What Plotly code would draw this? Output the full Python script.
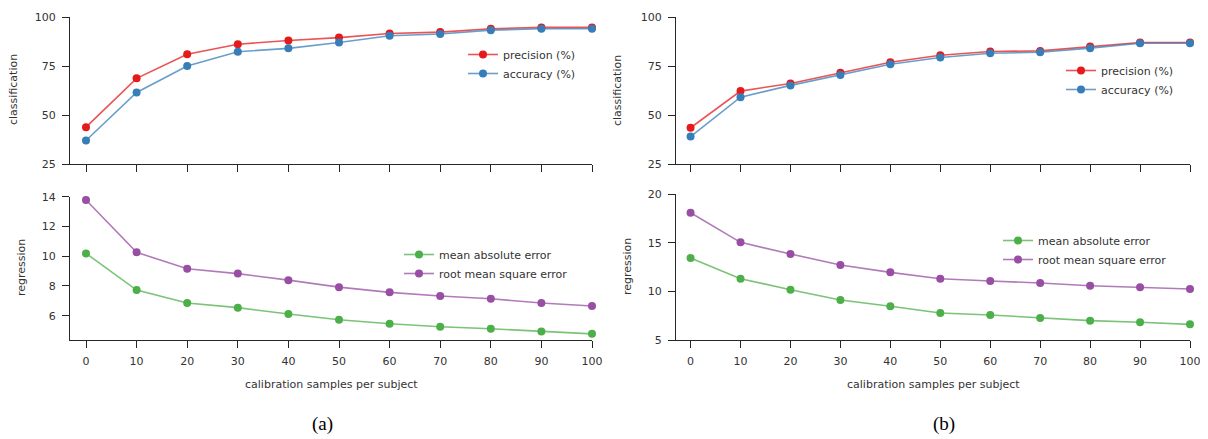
import plotly.graph_objects as go

# the page body has an 8px margin, so the figure is drawn 8px smaller and offset
OFF = 8
W, H = 1208 - OFF, 439 - OFF

samples = [0, 10, 20, 30, 40, 50, 60, 70, 80, 90, 100]

# panel (a)
a_precision = [43.8, 68.7, 81.0, 86.1, 88.0, 89.5, 91.6, 92.3, 94.0, 94.7, 94.7]
a_accuracy = [37.0, 61.5, 75.0, 82.3, 84.0, 87.0, 90.4, 91.3, 93.3, 94.0, 94.0]
a_mae = [10.19, 7.72, 6.85, 6.54, 6.11, 5.73, 5.46, 5.26, 5.12, 4.94, 4.78]
a_rmse = [13.78, 10.26, 9.16, 8.83, 8.39, 7.92, 7.57, 7.32, 7.14, 6.85, 6.65]

# panel (b)
b_precision = [43.5, 62.2, 66.1, 71.6, 76.9, 80.5, 82.4, 82.7, 84.9, 87.0, 87.0]
b_accuracy = [39.0, 59.1, 65.1, 70.4, 75.9, 79.3, 81.5, 82.0, 84.1, 86.6, 86.6]
b_mae = [13.42, 11.30, 10.17, 9.11, 8.46, 7.77, 7.57, 7.26, 6.99, 6.82, 6.61]
b_rmse = [18.08, 15.03, 13.84, 12.71, 11.95, 11.30, 11.06, 10.86, 10.58, 10.41, 10.24]

cls_ticks = [25, 50, 75, 100]
reg_ticks_a = [6, 8, 10, 12, 14]
reg_ticks_b = [5, 10, 15, 20]

RED = "#e41a1c"
BLUE = "#377eb8"
GREEN = "#4daf4a"
PURPLE = "#984ea3"

def rgba(hexc, a):
    h = hexc.lstrip("#")
    return "rgba(%d,%d,%d,%.2f)" % (int(h[0:2], 16), int(h[2:4], 16), int(h[4:6], 16), a)

def px_x(p):
    return (p - OFF) / W

def px_y(p):
    return 1 - (p - OFF) / H

fig = go.Figure()

def add(x, y, name, color, xa, ya, legend):
    fig.add_trace(go.Scatter(
        x=x, y=y, name=name, mode="lines+markers",
        line=dict(color=rgba(color, 0.75), width=1.6),
        marker=dict(color=color, size=8),
        xaxis=xa, yaxis=ya, legend=legend, cliponaxis=False,
    ))

add(samples, a_precision, "precision (%)", RED, "x", "y", "legend")
add(samples, a_accuracy, "accuracy (%)", BLUE, "x", "y", "legend")
add(samples, a_mae, "mean absolute error", GREEN, "x2", "y2", "legend2")
add(samples, a_rmse, "root mean square error", PURPLE, "x2", "y2", "legend2")
add(samples, b_precision, "precision (%)", RED, "x3", "y3", "legend3")
add(samples, b_accuracy, "accuracy (%)", BLUE, "x3", "y3", "legend3")
add(samples, b_mae, "mean absolute error", GREEN, "x4", "y4", "legend4")
add(samples, b_rmse, "root mean square error", PURPLE, "x4", "y4", "legend4")

AX = "#262626"
TF = dict(family="DejaVu Sans", size=11, color="#333333")

def xaxis(dom, anchor, rng, labels):
    return dict(domain=dom, anchor=anchor, range=rng, tickvals=samples,
                showticklabels=labels, ticks="outside", ticklen=7, tickwidth=1.2,
                tickcolor=AX, showline=True, linecolor=AX, linewidth=1.3,
                showgrid=False, zeroline=False, tickfont=TF, ticklabelstandoff=4,
                automargin=False)

def yaxis(dom, anchor, rng, tv):
    return dict(domain=dom, anchor=anchor, range=rng, tickvals=tv,
                ticks="outside", ticklen=7, tickwidth=1.2, tickcolor=AX,
                showline=True, linecolor=AX, linewidth=1.3, showgrid=False,
                zeroline=False, tickfont=TF, ticklabelstandoff=4, automargin=False)

xl = [px_x(70), px_x(592)]
xr = [px_x(676), px_x(1190)]
top_dom = [px_y(164), px_y(17)]
bl_dom = [px_y(340), px_y(196.7)]
br_dom = [px_y(340), px_y(194)]

rl = [-16 / 5.06, 100]
rr = [-15 / 5.14, 100]

fig.update_layout(
    width=W, height=H,
    margin=dict(l=0, r=0, t=0, b=0, autoexpand=False),
    paper_bgcolor="white", plot_bgcolor="white",
    font=dict(family="DejaVu Sans", size=11, color="#333333"),
    xaxis=xaxis(xl, "y", rl, False),
    yaxis=yaxis(top_dom, "x", [25, 100], cls_ticks),
    xaxis2=xaxis(xl, "y2", rl, True),
    yaxis2=yaxis(bl_dom, "x2", [4.367, 14], reg_ticks_a),
    xaxis3=xaxis(xr, "y3", rr, False),
    yaxis3=yaxis(top_dom, "x3", [25, 100], cls_ticks),
    xaxis4=xaxis(xr, "y4", rr, True),
    yaxis4=yaxis(br_dom, "x4", [5, 20], reg_ticks_b),
    showlegend=True,
)

def legend(x, y):
    return dict(x=px_x(x), y=px_y(y), xanchor="left", yanchor="top",
                bgcolor="rgba(0,0,0,0)", font=dict(family="DejaVu Sans", size=11, color="#333333"),
                tracegroupgap=0, itemwidth=30)

fig.update_layout(
    legend=legend(463, 40),
    legend2=legend(399, 240),
    legend3=legend(1061, 56),
    legend4=legend(998, 226),
)

ann = []
def at(text, x, y, angle=0, size=11, family="DejaVu Sans", color="#333333"):
    ann.append(dict(text=text, x=px_x(x), y=px_y(y), xref="paper", yref="paper",
                    showarrow=False, textangle=angle, xanchor="center", yanchor="middle",
                    font=dict(family=family, size=size, color=color)))

at("classification", 13, 90, -90)
at("regression", 21, 268, -90)
at("classification", 617, 90, -90)
at("regression", 627, 267, -90)
at("calibration samples per subject", 331, 384)
at("calibration samples per subject", 933, 384)
at("(a)", 322, 424, size=19, family="Liberation Serif", color="#000000")
at("(b)", 944, 424, size=19, family="Liberation Serif", color="#000000")
fig.update_layout(annotations=ann)

fig.write_html("out.html")
